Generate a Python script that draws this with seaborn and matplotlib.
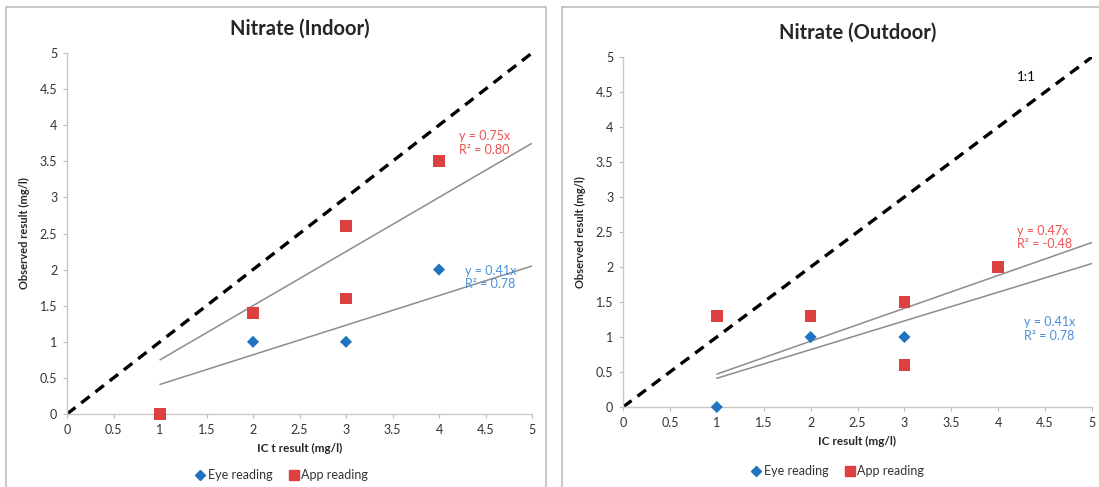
import numpy as np
import pandas as pd
import matplotlib
matplotlib.use("Agg")
import matplotlib.pyplot as plt
import seaborn as sns
from matplotlib.patches import Rectangle
from matplotlib.lines import Line2D

sns.set_theme(style="white")
plt.rcParams['font.family'] = ['Lato', 'DejaVu Sans']

# ---- data ----
indoor_eye_x = [2, 3, 4]
indoor_eye_y = [1, 1, 2]
indoor_app_x = [1, 2, 3, 3, 4]
indoor_app_y = [0, 1.4, 2.6, 1.6, 3.5]
indoor_slopes = {"app": 0.75, "eye": 0.41}
indoor_r2 = {"app": "0.80", "eye": "0.78"}

outdoor_eye_x = [1, 2, 3]
outdoor_eye_y = [0, 1, 1]
outdoor_app_x = [1, 2, 3, 3, 4]
outdoor_app_y = [1.3, 1.3, 1.5, 0.6, 2]
outdoor_slopes = {"app": 0.47, "eye": 0.41}
outdoor_r2 = {"app": "-0.48", "eye": "0.78"}

ticks = [0, 0.5, 1, 1.5, 2, 2.5, 3, 3.5, 4, 4.5, 5]
tick_labels = ["0", "0.5", "1", "1.5", "2", "2.5", "3", "3.5", "4", "4.5", "5"]

BLUE = "#1f73bf"
RED = "#dd4040"
RED_TXT = "#f05050"
BLUE_TXT = "#4a90d8"

fig = plt.figure(figsize=(10.99, 4.87), dpi=100)

# panel frames
fig.patches.append(Rectangle((6 / 1099, -0.01), 540 / 1099, 1 - 7 / 487 + 0.01,
                             transform=fig.transFigure, fill=False, ec="#bdbdbd", lw=1.2))
fig.patches.append(Rectangle((562 / 1099, -0.01), 0.6, 1 - 7 / 487 + 0.01,
                             transform=fig.transFigure, fill=False, ec="#bdbdbd", lw=1.2))

ax1 = fig.add_axes([67 / 1099, 1 - 414 / 487, 465 / 1099, 361 / 487])
ax2 = fig.add_axes([623 / 1099, 1 - 407 / 487, 469 / 1099, 350 / 487])


def draw_panel(ax, eye_x, eye_y, app_x, app_y, slopes, r2, title, xlabel, pos, leg_xy):
    # 1:1 line
    ax.plot([0, 5], [0, 5], ls=(0, (3.2, 2.2)), color="black", lw=2.4, zorder=2)
    # linear trendlines through origin
    xt = np.array([1, 5])
    for k in ["app", "eye"]:
        ax.plot(xt, slopes[k] * xt, color="#8c8c8c", lw=1.1, zorder=2)
    eye = pd.DataFrame({"x": eye_x, "y": eye_y})
    app = pd.DataFrame({"x": app_x, "y": app_y})
    sns.scatterplot(data=eye, x="x", y="y", ax=ax, marker="D", s=38, color=BLUE,
                    edgecolor="none", zorder=3, clip_on=False)
    sns.scatterplot(data=app, x="x", y="y", ax=ax, marker="s", s=70, color=RED,
                    edgecolor="none", zorder=3, clip_on=False)
    ax.set_xlim(0, 5)
    ax.set_ylim(0, 5)
    ax.set_xticks(ticks)
    ax.set_xticklabels(tick_labels)
    ax.set_yticks(ticks)
    ax.set_yticklabels(tick_labels)
    ax.tick_params(axis="both", labelsize=9, length=3, width=0.8, direction="out",
                   pad=4, left=True, bottom=True, colors="#bbbbbb", labelcolor="#333333")
    for s in ["top", "right"]:
        ax.spines[s].set_visible(False)
    for s in ["left", "bottom"]:
        ax.spines[s].set_color("#c8c8c8")
        ax.spines[s].set_linewidth(1)
    ax.set_xlabel(xlabel, fontsize=8.5, fontweight="bold", labelpad=5)
    ax.set_ylabel("Observed result (mg/l)", fontsize=8, fontweight="bold", labelpad=7)
    ax.set_title(title, fontsize=14.5, fontweight="bold", pad=13)
    ax.text(pos["app"][0], pos["app"][1], f"y = {slopes['app']}x\nR² = {r2['app']}",
            color=RED_TXT, fontsize=9, va="top", ha="left", linespacing=1.15)
    ax.text(pos["eye"][0], pos["eye"][1], f"y = {slopes['eye']}x\nR² = {r2['eye']}",
            color=BLUE_TXT, fontsize=9, va="top", ha="left", linespacing=1.15)
    handles = [Line2D([], [], marker="D", ls="none", color=BLUE, markersize=5),
               Line2D([], [], marker="s", ls="none", color=RED, markersize=7)]
    leg = ax.legend(handles, ["Eye reading", "App reading"], loc="center",
                    bbox_to_anchor=leg_xy, bbox_transform=fig.transFigure,
                    ncol=2, frameon=False, fontsize=9,
                    handletextpad=0.1, columnspacing=1.2, handlelength=1)
    for t in leg.get_texts():
        t.set_color("#333333")


draw_panel(ax1, indoor_eye_x, indoor_eye_y, indoor_app_x, indoor_app_y,
           indoor_slopes, indoor_r2, "Nitrate (Indoor)", "IC t result (mg/l)",
           {"app": (4.22, 3.93), "eye": (4.28, 2.07)}, (281 / 1099, 1 - 475 / 487))
draw_panel(ax2, outdoor_eye_x, outdoor_eye_y, outdoor_app_x, outdoor_app_y,
           outdoor_slopes, outdoor_r2, "Nitrate (Outdoor)", "IC result (mg/l)",
           {"app": (4.2, 2.6), "eye": (4.27, 1.3)}, (837 / 1099, 1 - 471 / 487))
ax2.text(4.2, 4.8, "1:1", fontsize=9.5, color="black", va="top", ha="left")

fig.savefig("out.png", dpi=100)
